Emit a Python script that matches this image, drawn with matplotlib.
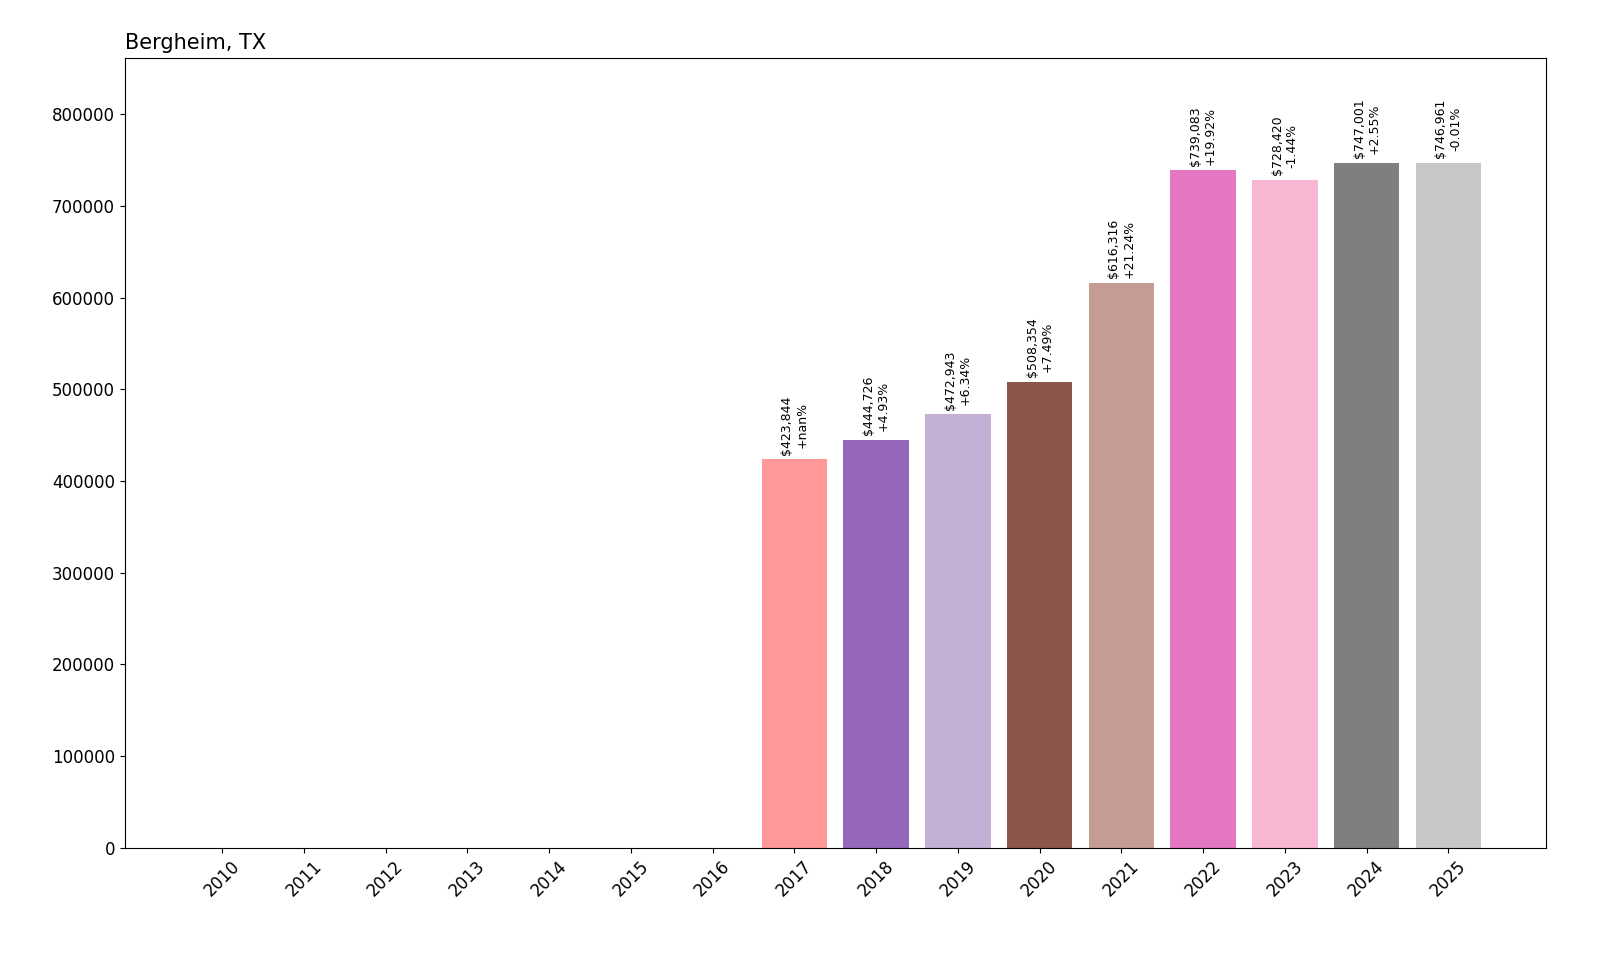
import numpy as np
import matplotlib.pyplot as plt

# Data ........................................................................
years = [str(y) for y in range(2010, 2026)]
values = [0, 0, 0, 0, 0, 0, 0,
          423844, 444726, 472943, 508354, 616316, 739083, 728420, 747001, 746961]
changes = [None] * 7 + ["+nan%", "+4.93%", "+6.34%", "+7.49%", "+21.24%",
                        "+19.92%", "-1.44%", "+2.55%", "-0.01%"]

# Plot ........................................................................
fig, ax = plt.subplots(figsize=(16, 9.6), dpi=100)
colors = [plt.cm.tab20(i) for i in range(len(years))]
x = np.arange(len(years))
bars = ax.bar(x, values, color=colors)

for bar, v, c in zip(bars, values, changes):
    if c is None:
        continue
    ax.text(bar.get_x() + bar.get_width() / 2, v + 5000, f"${v:,}\n{c}",
            rotation=90, ha="center", va="bottom", fontsize=9)

ax.set_xticks(x)
ax.set_xticklabels(years, rotation=45, fontsize=12)
ax.tick_params(axis="y", labelsize=12)
ax.set_ylim(0, 862000)
ax.set_title("Bergheim, TX", loc="left", fontsize=15)

plt.subplots_adjust(left=0.078, right=0.966, top=0.94, bottom=0.117)
plt.savefig("out.png")
